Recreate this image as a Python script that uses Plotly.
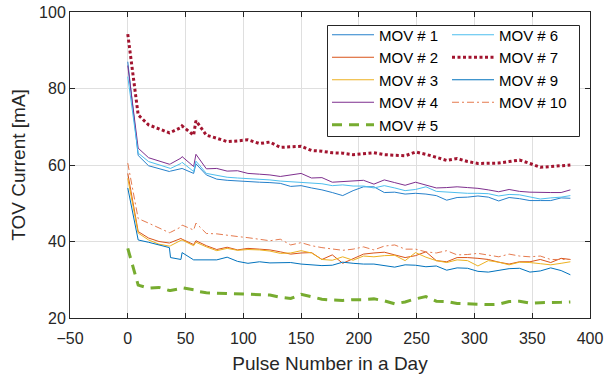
import plotly.graph_objects as go

pulse = [0, 9, 18, 27, 36, 37, 46, 47, 57, 59, 68, 77, 86, 95, 104, 114, 123, 132, 141, 150,
         159, 168, 177, 186, 195, 204, 213, 222, 231, 240, 249, 258, 267, 276, 285, 294, 303,
         312, 321, 330, 339, 348, 357, 366, 375, 383]

mov1 = [87.0, 62.5, 59.8, 59.0, 58.3, 58.4, 58.9, 59.1, 57.8, 60.3, 57.4, 56.3, 56.0, 55.8, 55.6,
        55.5, 55.4, 55.2, 54.4, 54.6, 54.0, 53.5, 52.8, 52.0, 53.3, 54.3, 54.3, 52.8, 52.9, 52.4,
        52.6, 52.4, 52.0, 50.8, 51.5, 51.6, 51.9, 51.6, 50.6, 51.5, 51.2, 50.7, 50.7, 50.7, 51.4, 51.3]
mov2 = [57.8, 42.6, 40.9, 40.0, 39.6, 39.7, 40.8, 40.6, 39.2, 40.2, 38.9, 37.9, 38.5, 37.8, 38.2,
        38.0, 37.8, 37.3, 36.7, 37.0, 37.1, 35.3, 36.5, 34.3, 35.5, 36.7, 37.0, 37.2, 36.5, 35.8,
        36.3, 37.3, 35.0, 34.7, 35.8, 35.8, 35.6, 35.3, 34.6, 34.1, 34.7, 34.7, 35.3, 34.5, 35.6, 35.3]
mov3 = [56.5, 42.2, 40.4, 39.3, 38.8, 38.9, 40.3, 40.4, 38.9, 39.8, 38.6, 37.6, 38.2, 37.7, 37.9,
        37.8, 37.5, 36.9, 37.0, 37.6, 37.0, 35.3, 35.1, 36.0, 35.1, 36.2, 36.0, 36.3, 36.4, 35.0,
        37.1, 35.9, 35.0, 34.5, 35.2, 35.0, 33.6, 35.0, 34.6, 33.9, 34.6, 34.5, 34.2, 33.9, 34.3, 34.7]
mov4 = [86.0, 64.4, 61.9, 61.0, 60.2, 60.3, 61.8, 62.2, 59.6, 62.8, 59.0, 59.1, 58.4, 58.5, 57.8,
        57.6, 57.4, 57.0, 57.4, 57.8, 56.6, 56.7, 55.5, 55.7, 55.9, 56.0, 55.0, 56.1, 55.4, 54.7,
        55.5, 54.7, 54.0, 54.1, 54.3, 54.1, 53.9, 53.5, 53.0, 53.6, 53.1, 52.9, 52.8, 52.8, 52.8, 53.5]
mov5 = [38.2, 28.6, 27.8, 28.0, 27.2, 27.2, 27.7, 27.9, 27.4, 27.0, 26.6, 26.5, 26.4, 26.3, 26.2,
        26.0, 26.0, 25.4, 25.1, 26.2, 25.5, 24.9, 24.7, 24.6, 24.8, 24.8, 25.0, 24.5, 23.7, 24.2,
        25.0, 25.6, 24.4, 24.3, 23.8, 23.7, 23.7, 23.5, 23.6, 24.3, 24.4, 23.9, 24.0, 24.0, 24.1, 24.2]
mov6 = [83.1, 63.1, 60.9, 60.0, 59.0, 59.1, 60.4, 60.7, 58.3, 61.0, 57.8, 57.2, 56.8, 56.6, 56.5,
        56.3, 56.1, 55.8, 55.6, 55.5, 55.3, 55.1, 54.6, 54.8, 54.5, 54.5, 54.0, 54.6, 54.0, 53.3,
        53.6, 54.3, 53.1, 52.9, 52.8, 52.6, 52.6, 52.5, 51.9, 52.3, 52.2, 51.6, 51.1, 51.4, 51.6, 52.0]
mov7 = [94.2, 73.1, 70.5, 69.5, 68.4, 68.5, 69.8, 70.2, 67.8, 71.6, 67.8, 67.0, 66.1, 66.3, 66.6,
        65.6, 66.0, 64.6, 64.7, 64.9, 63.8, 63.6, 63.2, 63.1, 62.7, 63.0, 63.2, 62.7, 62.6, 62.4,
        63.4, 62.8, 62.0, 61.2, 61.7, 60.9, 60.4, 60.4, 60.5, 60.9, 61.3, 60.4, 59.4, 59.6, 59.9, 60.0]
mov9 = [54.0, 40.4, 39.8, 39.0, 38.4, 35.8, 35.3, 37.1, 35.2, 35.2, 35.2, 35.2, 35.9, 34.8, 34.3,
        34.7, 34.4, 34.5, 34.5, 34.1, 33.9, 33.7, 33.8, 34.6, 34.3, 34.1, 34.1, 33.6, 33.3, 33.9,
        33.8, 33.4, 33.6, 32.5, 33.1, 33.0, 32.2, 32.0, 32.5, 32.9, 33.0, 32.0, 32.3, 33.1, 32.4, 31.3]
mov10 = [60.5, 46.0, 44.8, 43.6, 42.3, 42.4, 43.8, 44.3, 43.0, 44.8, 42.1, 42.0, 41.6, 41.3, 41.0,
         40.5, 40.2, 40.6, 39.1, 39.7, 38.9, 38.4, 38.0, 37.7, 38.0, 38.6, 37.8, 38.8, 39.1, 38.0,
         38.0, 37.3, 37.0, 37.6, 36.5, 36.6, 36.9, 36.4, 36.0, 36.7, 36.2, 36.0, 36.2, 35.3, 35.4, 35.3]

series = [
    ("MOV # 1", mov1, "#2580CB", 1, "solid", "legend", 1),
    ("MOV # 2", mov2, "#D95319", 1, "solid", "legend", 2),
    ("MOV # 3", mov3, "#EDB120", 1, "solid", "legend", 3),
    ("MOV # 4", mov4, "#7E2F8E", 1, "solid", "legend", 4),
    ("MOV # 5", mov5, "#77AC30", 3, "10px,7px", "legend", 5),
    ("MOV # 6", mov6, "#4DBEEE", 1, "solid", "legend2", 1),
    ("MOV # 7", mov7, "#A2142F", 3, "3px,2.5px", "legend2", 2),
    ("MOV # 9", mov9, "#0072BD", 1, "solid", "legend2", 3),
    ("MOV # 10", mov10, "#E57A4E", 1, "7px,3px,2px,3px", "legend2", 4),
]

fig = go.Figure()
for name, ys, col, w, dash, leg, rank in series:
    fig.add_trace(go.Scatter(x=pulse, y=ys, name=name, mode="lines",
                             line=dict(color=col, width=w, dash=dash),
                             legend=leg, legendrank=rank))

axcol = "#262626"
grid = "#dfdfdf"
font = "Liberation Sans, Arial, sans-serif"

L, R, T, B = 70, 15, 12, 58
W, H = 605, 376
pw, ph = W - L - R, H - T - B

def px2paper_x(px):
    return (px - L) / pw

def px2paper_y(py):
    return (H - B - py) / ph

fig.add_shape(type="rect", xref="paper", yref="paper",
              x0=px2paper_x(327.5), x1=px2paper_x(579.5),
              y0=px2paper_y(136.5), y1=px2paper_y(25.5),
              fillcolor="white", line=dict(color=axcol, width=1), layer="above")

legcommon = dict(font=dict(family=font, size=15, color="#000000"),
                 bgcolor="rgba(0,0,0,0)", borderwidth=0, itemwidth=42,
                 xanchor="left", yanchor="top", tracegroupgap=0, itemclick=False)

fig.update_layout(
    width=W, height=H,
    margin=dict(l=L, r=R, t=T, b=B, autoexpand=False),
    paper_bgcolor="white", plot_bgcolor="white",
    font=dict(family=font, size=16, color=axcol),
    showlegend=True,
    legend=dict(x=px2paper_x(327), y=px2paper_y(18.5), **legcommon),
    legend2=dict(x=px2paper_x(447), y=px2paper_y(18.5), **legcommon),
    xaxis=dict(range=[-50, 400], tickmode="array", tickvals=[-50, 0, 50, 100, 150, 200, 250, 300, 350, 400],
               showgrid=True, gridcolor=grid, gridwidth=1, zeroline=False, automargin=False,
               showline=True, linecolor=axcol, linewidth=1, mirror="ticks",
               ticks="inside", ticklen=5, tickcolor=axcol, tickwidth=1, ticklabelstandoff=6,
               tickfont=dict(size=16, color=axcol, family=font),
               title=dict(text="Pulse Number in a Day", font=dict(size=19, color=axcol, family=font), standoff=10)),
    yaxis=dict(range=[20, 100], tickmode="array", tickvals=[20, 40, 60, 80, 100],
               showgrid=True, gridcolor=grid, gridwidth=1, zeroline=False, automargin=False,
               showline=True, linecolor=axcol, linewidth=1, mirror="ticks",
               ticks="inside", ticklen=5, tickcolor=axcol, tickwidth=1,
               tickfont=dict(size=16, color=axcol, family=font),
               title=dict(text="TOV Current [mA]", font=dict(size=19, color=axcol, family=font), standoff=8)),
)

fig.write_html("out.html", config={"displayModeBar": False},
               post_script="document.body.style.margin='0';")
